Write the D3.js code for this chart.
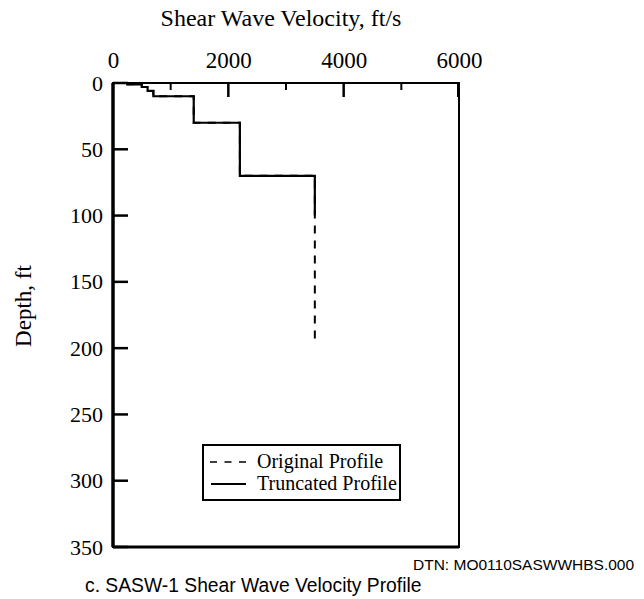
<!DOCTYPE html>
<html>
<head>
<meta charset="utf-8">
<script src="https://cdn.jsdelivr.net/npm/d3@7"></script>
<style>
  body { margin: 0; background: #fff; }
  svg { display: block; }
</style>
</head>
<body>
<svg id="chart" width="644" height="599"></svg>
<script>
// Layer data
const layerVelocity = [250, 500, 600, 700, 1400, 2200, 3500];   // ft/s
const layerTopDepth = [0, 1, 3, 6, 10, 30, 70];                 // ft
const truncatedBottom = 100;   // ft
const originalBottom = 195;    // ft
const xTicksMajor = [0, 2000, 4000, 6000];
const xTicksMinor = [1000, 3000, 5000];
const yTicks = [0, 50, 100, 150, 200, 250, 300, 350];
const legendLabels = ["Original Profile", "Truncated Profile"];

function stepPoints(bottom) {
  const pts = [];
  for (let i = 0; i < layerVelocity.length; i++) {
    const top = layerTopDepth[i];
    const bot = i < layerVelocity.length - 1 ? layerTopDepth[i + 1] : bottom;
    pts.push([layerVelocity[i], top]);
    pts.push([layerVelocity[i], bot]);
  }
  return pts;
}

const svg = d3.select("#chart");
const L = 113, T = 83, W = 346, H = 464;
const x = d3.scaleLinear().domain([0, 6000]).range([L, L + W]);
const y = d3.scaleLinear().domain([0, 350]).range([T, T + H]);
const serif = "'Liberation Serif', 'Times New Roman', serif";
const sans = "'Liberation Sans', Arial, sans-serif";
const fmt = d3.format("d");

// title
svg.append("text").attr("x", 281).attr("y", 26).attr("text-anchor", "middle")
  .attr("font-family", serif).attr("font-size", 24).text("Shear Wave Velocity, ft/s");

// y-axis title
svg.append("text").attr("transform", "translate(31,306) rotate(-90)")
  .attr("text-anchor", "middle").attr("font-family", serif).attr("font-size", 23).text("Depth, ft");

// top axis labels
const gx = svg.append("g").attr("transform", `translate(0,${T})`)
  .call(d3.axisTop(x).tickValues(xTicksMajor).tickSize(0).tickPadding(15).tickFormat(fmt));
gx.select(".domain").remove();
gx.selectAll("text").attr("font-family", serif).attr("font-size", 23).attr("fill", "#000");

// x ticks (inward)
svg.append("g").selectAll("line.xmaj").data(xTicksMajor.slice(1, -1)).enter().append("line")
  .attr("x1", d => x(d)).attr("x2", d => x(d)).attr("y1", T).attr("y2", T + 14)
  .attr("stroke", "#000").attr("stroke-width", 2.5);
svg.append("g").selectAll("line.xmin").data(xTicksMinor).enter().append("line")
  .attr("x1", d => x(d)).attr("x2", d => x(d)).attr("y1", T).attr("y2", T + 7)
  .attr("stroke", "#000").attr("stroke-width", 2);

// left axis labels
const gy = svg.append("g").attr("transform", `translate(${L},0)`)
  .call(d3.axisLeft(y).tickValues(yTicks).tickSize(0).tickPadding(10).tickFormat(fmt));
gy.select(".domain").remove();
gy.selectAll("text").attr("font-family", serif).attr("font-size", 22).attr("fill", "#000");

// y ticks (inward)
svg.append("g").selectAll("line.ytick").data(yTicks).enter().append("line")
  .attr("x1", L).attr("x2", L + 15).attr("y1", d => y(d)).attr("y2", d => y(d))
  .attr("stroke", "#000").attr("stroke-width", 2.5);

// frame
svg.append("rect").attr("x", L).attr("y", T).attr("width", W).attr("height", H)
  .attr("fill", "none").attr("stroke", "#000").attr("stroke-width", 2);
svg.append("line").attr("x1", L).attr("x2", L).attr("y1", T).attr("y2", T + H)
  .attr("stroke", "#000").attr("stroke-width", 3.5);
svg.append("line").attr("x1", L).attr("x2", L + W).attr("y1", T + H).attr("y2", T + H)
  .attr("stroke", "#000").attr("stroke-width", 3);
svg.append("line").attr("x1", L + W - 1).attr("x2", L + W - 1).attr("y1", T).attr("y2", T + 14)
  .attr("stroke", "#000").attr("stroke-width", 2);

const line = d3.line().x(d => x(d[0])).y(d => y(d[1]));

// original profile (dashed)
svg.append("path").datum(stepPoints(originalBottom)).attr("d", line)
  .attr("fill", "none").attr("stroke", "#000").attr("stroke-width", 2)
  .attr("stroke-dasharray", "8,7");
// truncated profile (solid)
svg.append("path").datum(stepPoints(truncatedBottom)).attr("d", line)
  .attr("fill", "none").attr("stroke", "#000").attr("stroke-width", 2.2);

// legend
const lg = svg.append("g");
lg.append("rect").attr("x", 203).attr("y", 445).attr("width", 197).attr("height", 55)
  .attr("fill", "#fff").attr("stroke", "#000").attr("stroke-width", 2);
lg.append("line").attr("x1", 210).attr("x2", 252).attr("y1", 462).attr("y2", 462)
  .attr("stroke", "#000").attr("stroke-width", 1.5).attr("stroke-dasharray", "7,7.5");
lg.append("line").attr("x1", 211).attr("x2", 246).attr("y1", 484).attr("y2", 484)
  .attr("stroke", "#000").attr("stroke-width", 1.8);
lg.selectAll("text.leg").data(legendLabels).enter().append("text").attr("class", "leg")
  .attr("x", 257).attr("y", (d, i) => 468 + i * 22)
  .attr("font-family", serif).attr("font-size", 20).text(d => d);

// captions
svg.append("text").attr("x", 413).attr("y", 570).attr("font-family", sans).attr("font-size", 15.5)
  .text("DTN: MO0110SASWWHBS.000");
svg.append("text").attr("x", 85).attr("y", 592).attr("font-family", sans).attr("font-size", 19.3)
  .text("c. SASW-1 Shear Wave Velocity Profile");
</script>
</body>
</html>
